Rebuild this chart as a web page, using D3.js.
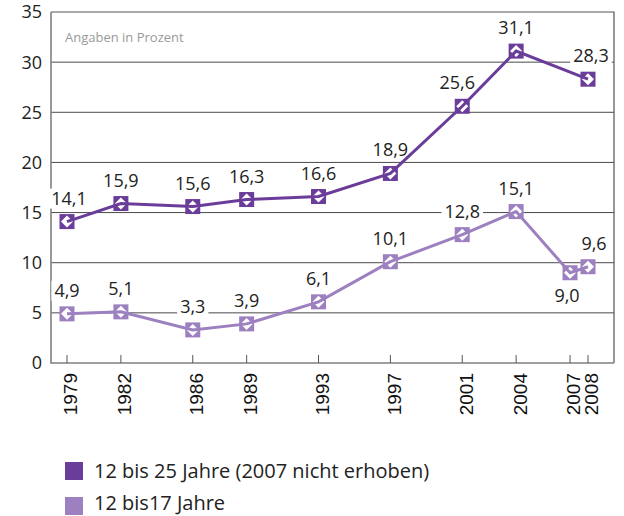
<!DOCTYPE html>
<html>
<head>
<meta charset="utf-8">
<script src="https://cdn.jsdelivr.net/npm/d3@7"></script>
<style>
  body { margin: 0; background: #fff; }
  svg { display: block; }
</style>
</head>
<body>
<div id="chart"></div>
<script>
// years on the x axis (2007: only the 12-17 survey)
const years = [1979, 1982, 1986, 1989, 1993, 1997, 2001, 2004, 2007, 2008];
const values12to25 = [14.1, 15.9, 15.6, 16.3, 16.6, 18.9, 25.6, 31.1, null, 28.3];
const values12to17 = [4.9, 5.1, 3.3, 3.9, 6.1, 10.1, 12.8, 15.1, 9.0, 9.6];
const yTicks = [0, 5, 10, 15, 20, 25, 30, 35];
const seriesNames = ['12 bis 25 Jahre (2007 nicht erhoben)', '12 bis17 Jahre'];
const seriesColors = ['#6b3d9a', '#9d80bf'];
const note = 'Angaben in Prozent';

const width = 624, height = 516;
const plotLeft = 51, plotRight = 614, plotTop = 12, plotBottom = 363;

const svg = d3.select('#chart').append('svg')
    .attr('width', width)
    .attr('height', height);

const x = d3.scaleLinear().domain([1979, 2008]).range([67, 588]);
const y = d3.scaleLinear().domain([0, 35]).range([plotBottom, plotTop]);

// gridlines
svg.append('g')
    .selectAll('line')
    .data(yTicks.filter(d => d > 0 && d < 35))
    .enter().append('line')
    .attr('x1', plotLeft).attr('x2', plotRight)
    .attr('y1', d => y(d)).attr('y2', d => y(d))
    .attr('stroke', '#4a4a4a').attr('stroke-width', 1);

// frame
svg.append('path')
    .attr('d', `M${plotLeft},${plotTop}H${plotRight}V${plotBottom}`)
    .attr('fill', 'none').attr('stroke', '#555').attr('stroke-width', 1.2);
svg.append('path')
    .attr('d', `M${plotLeft},${plotTop}V${plotBottom}H${plotRight}`)
    .attr('fill', 'none').attr('stroke', '#808080').attr('stroke-width', 1.6);

// y labels
svg.append('g')
    .selectAll('text')
    .data(yTicks)
    .enter().append('text')
    .attr('x', 42)
    .attr('y', d => y(d))
    .attr('dy', '0.36em')
    .attr('text-anchor', 'end')
    .attr('font-family', '"Open Sans", sans-serif')
    .attr('font-size', 18)
    .attr('fill', '#222')
    .text(d => d);

// x ticks + labels
const xg = svg.append('g');
xg.selectAll('line')
    .data(years)
    .enter().append('line')
    .attr('x1', d => x(d)).attr('x2', d => x(d))
    .attr('y1', plotBottom - 8).attr('y2', plotBottom)
    .attr('stroke', '#555').attr('stroke-width', 1);
xg.selectAll('text')
    .data(years)
    .enter().append('text')
    .attr('transform', d => `translate(${x(d)},373) rotate(-90)`)
    .attr('dy', '0.55em')
    .attr('text-anchor', 'end')
    .attr('font-family', '"Liberation Sans", Arial, sans-serif')
    .attr('font-size', 19)
    .attr('fill', '#111')
    .text(d => d);

svg.append('text')
    .attr('x', 65).attr('y', 42)
    .attr('font-family', '"Open Sans", sans-serif')
    .attr('font-size', 13)
    .attr('fill', '#999')
    .text(note);

const series = [values12to25, values12to17].map((vals, i) => ({
    name: seriesNames[i],
    color: seriesColors[i],
    points: years.map((yr, j) => ({ year: yr, value: vals[j] })).filter(p => p.value !== null)
}));

const line = d3.line().x(d => x(d.year)).y(d => y(d.value));

// layers: label backings sit under the lines, label text on top
const backLayer = svg.append('g');
const seriesLayer = svg.append('g');
const labelLayer = svg.append('g');

// small nudges for labels that sit off-centre in the original
const labelNudge = { '0-1979': 2, '0-2001': -5, '0-2008': 3, '1-2008': 6, '1-2007': -3 };
const labelBelow = { '1-2007': true };

series.forEach((s, i) => {
    const g = seriesLayer.append('g');
    const m = g.selectAll('.marker')
        .data(s.points)
        .enter().append('g')
        .attr('class', 'marker')
        .attr('transform', d => `translate(${x(d.year)},${y(d.value)})`);
    m.append('rect')
        .attr('x', -7.5).attr('y', -7.5)
        .attr('width', 15).attr('height', 15)
        .attr('fill', s.color);
    m.append('path')
        .attr('d', 'M0,-6L6,0L0,6L-6,0Z')
        .attr('fill', '#fff');
    g.append('path')
        .datum(s.points)
        .attr('d', line)
        .attr('fill', 'none')
        .attr('stroke', s.color)
        .attr('stroke-width', 3);

    // value labels with white backing
    s.points.forEach(p => {
        const key = i + '-' + p.year;
        const t = labelLayer.append('text')
            .attr('x', x(p.year) + (labelNudge[key] || 0))
            .attr('y', y(p.value) + (labelBelow[key] ? 29 : -17))
            .attr('text-anchor', 'middle')
            .attr('font-family', '"Open Sans", sans-serif')
            .attr('font-size', 18)
            .attr('fill', '#222')
            .text(d3.format('.1f')(p.value).replace('.', ','));
        const bb = t.node().getBBox();
        backLayer.append('rect')
            .attr('x', bb.x - 3).attr('y', bb.y + 3)
            .attr('width', bb.width + 6).attr('height', bb.height - 4)
            .attr('fill', '#fff');
    });
});

// legend
const leg = svg.append('g').attr('transform', 'translate(65,462)');
series.forEach((s, i) => {
    leg.append('rect')
        .attr('x', 0).attr('y', i * 35)
        .attr('width', 18).attr('height', 18)
        .attr('fill', s.color);
    leg.append('text')
        .attr('x', 29).attr('y', i * 32 + 16)
        .attr('font-family', '"Open Sans", sans-serif')
        .attr('font-size', 20)
        .attr('fill', '#222')
        .text(s.name);
});
</script>
</body>
</html>
